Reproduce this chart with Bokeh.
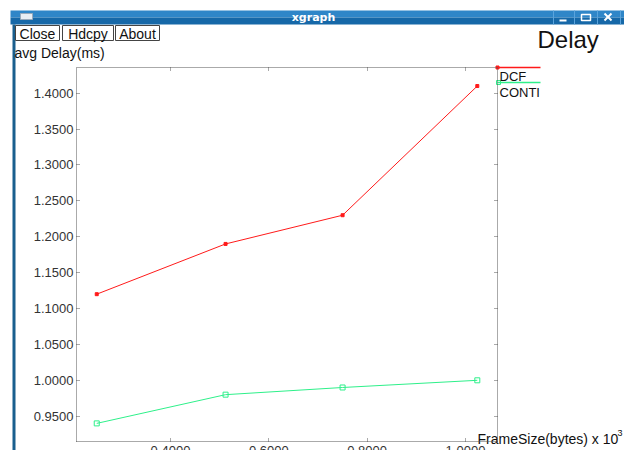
from bokeh.plotting import figure
from bokeh.models import Range1d, LinearAxis, FixedTicker, NumeralTickFormatter, CustomJSTickFormatter
from bokeh.embed import file_html
from bokeh.resources import INLINE
from bokeh.core.properties import value

# ---------------- data ----------------
frame_size = [0.25, 0.512, 0.75, 1.024]          # x 10^3 bytes
dcf_delay = [1.12, 1.19, 1.23, 1.41]
conti_delay = [0.94, 0.98, 0.99, 1.00]
series_names = ["DCF", "CONTI"]
x_ticks = [0.4, 0.6, 0.8, 1.0]
y_ticks = [0.95, 1.00, 1.05, 1.10, 1.15, 1.20, 1.25, 1.30, 1.35, 1.40]
chart_title = "Delay"
y_title = "avg Delay(ms)"
x_title = "FrameSize(bytes) x 10"
window_title = "xgraph"
buttons = ["Close", "Hdcpy", "About"]

# ---------------- geometry ----------------
W, H = 624, 450
X_LO, X_HI = 0.2088, 1.0651      # plot box in data units
Y_LO, Y_HI = 0.91475, 1.4358
FONT = value("Liberation Sans")
RED = "#ff1a1a"
GREEN = "#2ef08a"
AXC = "#555555"

p = figure(width=W, height=H, output_backend="svg", toolbar_location=None,
           x_range=Range1d(0.05424, 1.32339), y_range=Range1d(0.90221, 1.52915),
           x_axis_location=None, y_axis_location=None, min_border=0,
           outline_line_color=None, background_fill_color="white",
           border_fill_color="white")
p.title.visible = False
p.xgrid.visible = False
p.ygrid.visible = False
p.extra_x_ranges = {"px": Range1d(0, W)}
p.extra_y_ranges = {"px": Range1d(H, 0)}
PX = dict(x_range_name="px", y_range_name="px")

# ---------------- window chrome ----------------
p.quad(left=[10], right=[W], top=[10], bottom=[17], fill_color="#2f86c8", line_color=None, **PX)
p.quad(left=[10], right=[W], top=[17], bottom=[24], fill_color="#1668a8", line_color=None, **PX)
p.quad(left=[12], right=[15], top=[24], bottom=[H], fill_color="#1a5f8e", line_color=None, **PX)
p.quad(left=[20], right=[32], top=[13], bottom=[19], fill_color="#e8eef4", line_color="#9ab", **PX)
p.text(x=[313], y=[17], text=[window_title], text_align="center", text_baseline="middle",
       text_font=value("DejaVu Sans"), text_font_style="bold", text_font_size="11px",
       text_color="white", **PX)
for sx in [553, 574, 597, 620]:
    p.segment(x0=[sx], y0=[10], x1=[sx], y1=[24], line_color="#5aa3dc", line_width=1, **PX)
p.segment(x0=[559], y0=[20], x1=[566], y1=[20], line_color="white", line_width=2, **PX)
p.quad(left=[581], right=[590], top=[14], bottom=[20], fill_color=None, line_color="white", line_width=1.5, **PX)
p.segment(x0=[604, 604], y0=[13, 20], x1=[611, 611], y1=[20, 13], line_color="white", line_width=2, **PX)

# buttons
bx = [(15, 59), (62, 113), (115, 159)]
for (l, r), t in zip(bx, buttons):
    p.quad(left=[l], right=[r], top=[25], bottom=[40], fill_color="white", line_color="#444444", **PX)
    p.text(x=[(l + r) / 2], y=[33], text=[t], text_align="center", text_baseline="middle",
           text_font=FONT, text_font_size="14px", text_color="#111111", **PX)

p.text(x=[14], y=[52], text=[y_title], text_baseline="middle", text_font=FONT,
       text_font_size="14px", text_color="#111111", **PX)
p.text(x=[537], y=[39], text=[chart_title], text_baseline="middle", text_font=FONT,
       text_font_size="24px", text_color="#111111", **PX)
p.text(x=[477], y=[438], text=[x_title], text_baseline="middle", text_font=FONT,
       text_font_size="14px", text_color="#111111", **PX)
p.text(x=[617], y=[432], text=["3"], text_baseline="middle", text_font=FONT,
       text_font_size="9px", text_color="#111111", **PX)

# ---------------- axes (box with inward ticks) ----------------
common = dict(axis_line_color=AXC, axis_line_dash="1 1", major_tick_line_color=AXC,
              major_tick_line_dash="1 1", minor_tick_in=0, minor_tick_out=0,
              major_tick_out=0, major_tick_in=4,
              major_label_text_font="Liberation Sans", major_label_text_font_size="13px",
              major_label_text_color="#333333")
ax_l = LinearAxis(fixed_location=X_LO, bounds=(Y_LO, Y_HI), ticker=FixedTicker(ticks=y_ticks),
                  formatter=NumeralTickFormatter(format="0.0000"), major_label_standoff=3, **common)
p.add_layout(ax_l, "left")
ax_b = LinearAxis(fixed_location=Y_LO, bounds=(X_LO, X_HI), ticker=FixedTicker(ticks=x_ticks),
                  formatter=NumeralTickFormatter(format="0.0000"), major_label_standoff=5, **common)
p.add_layout(ax_b, "below")
blank = CustomJSTickFormatter(code="return ''")
ax_t = LinearAxis(fixed_location=Y_HI, bounds=(X_LO, X_HI), ticker=FixedTicker(ticks=x_ticks),
                  formatter=blank, **common)
p.add_layout(ax_t, "above")
ax_r = LinearAxis(fixed_location=X_HI, bounds=(Y_LO, Y_HI), ticker=FixedTicker(ticks=y_ticks),
                  formatter=blank, **common)
p.add_layout(ax_r, "right")

# ---------------- data series ----------------
p.line(frame_size, dcf_delay, line_color=RED, line_width=1)
p.scatter(frame_size, dcf_delay, marker="square", size=3, fill_color=RED, line_color=RED)
p.line(frame_size, conti_delay, line_color=GREEN, line_width=1)
p.scatter(frame_size, conti_delay, marker="square", size=5, fill_color=None, line_color=GREEN)

# ---------------- legend (xgraph style) ----------------
p.segment(x0=[497, 497], y0=[67, 82], x1=[540, 540], y1=[67, 82],
          line_color=[RED, GREEN], line_width=1.5, **PX)
p.scatter(x=[497], y=[67], marker="square", size=3, fill_color=RED, line_color=RED, **PX)
p.scatter(x=[498], y=[82], marker="square", size=4, fill_color=None, line_color=GREEN, **PX)
p.text(x=[499, 499], y=[68, 84], text=series_names, text_baseline="top", text_font=FONT,
       text_font_size="13px", text_color="#111111", **PX)

open("out.html", "w").write(file_html(p, INLINE))
